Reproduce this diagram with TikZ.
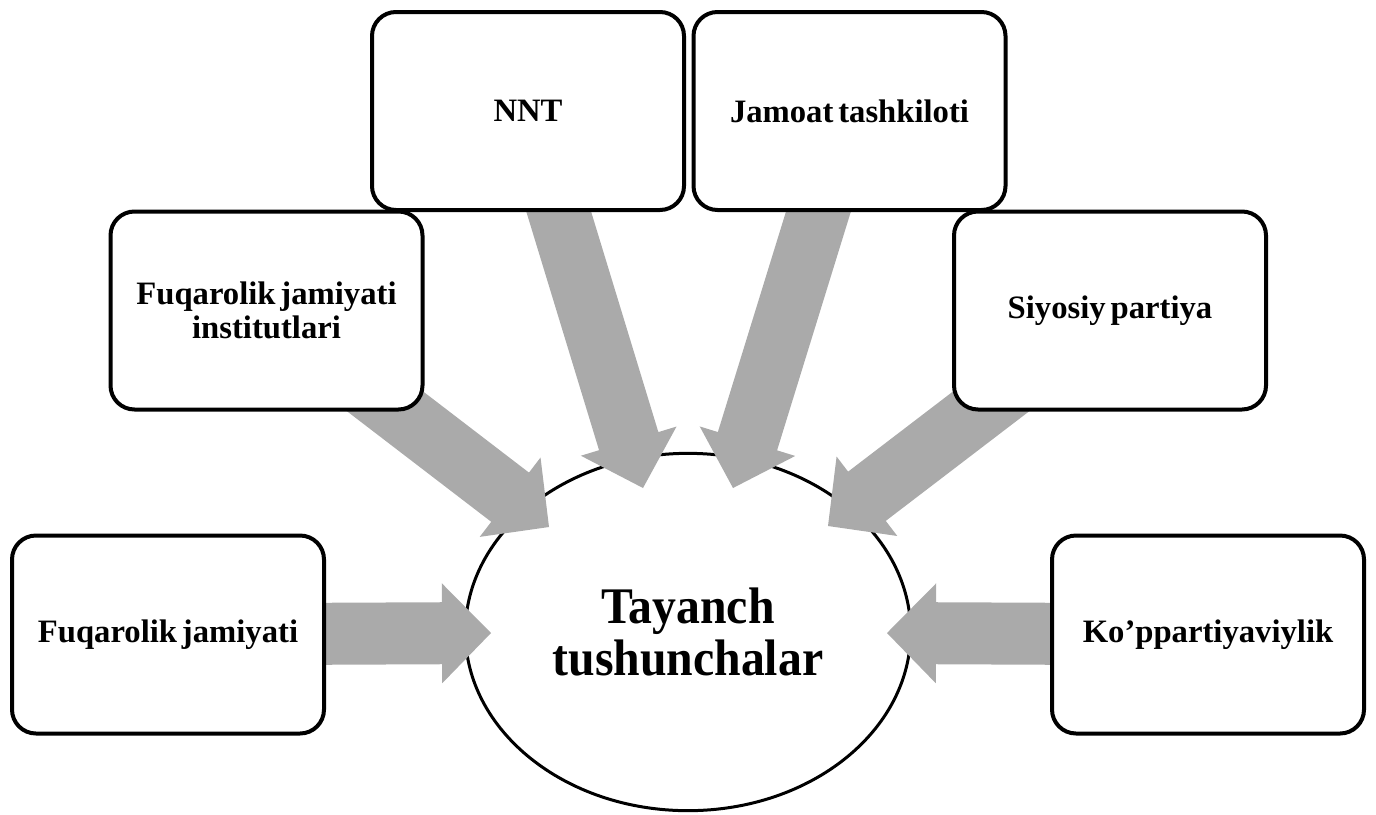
\documentclass[tikz,border=0pt]{standalone}
\usepackage{fontspec}
\setmainfont{Liberation Serif}[WordSpace=0.6]
\newfontfamily\bigfont{Liberation Serif}[FakeStretch=0.93]
\usetikzlibrary{calc,shapes.geometric}
\definecolor{arrgray}{RGB}{170,170,170}
\newcommand\blockarr[2]{%
  \path ($(#2)!36.75pt!(#1)$) coordinate (hb);
  \fill[arrgray] ($(#1)!23.25pt!90:(#2)$) -- ($(hb)!23.25pt!90:(#2)$) -- ($(hb)!37.5pt!90:(#2)$) -- (#2)
    -- ($(hb)!37.5pt!-90:(#2)$) -- ($(hb)!23.25pt!-90:(#2)$) -- ($(#1)!23.25pt!-90:(#2)$) -- cycle;}
\begin{document}
\begin{tikzpicture}[x=0.75pt,y=-0.75pt,
  box/.style={draw=black, line width=3pt, rounded corners=18pt, fill=white,
    minimum width=234pt, minimum height=148.5pt, inner sep=0pt, align=center,
    font=\bfseries\fontsize{24.5}{25.5}\selectfont},
  core/.style={ellipse, draw=black, line width=2.25pt, fill=white,
    minimum width=334pt, minimum height=268pt, inner sep=0pt, align=center,
    font=\bigfont\bfseries\fontsize{38.5}{39}\selectfont}]
\useasboundingbox (0,0) rectangle (1376,814);
% box centres
\coordinate (c-nnt) at (528,111);
\coordinate (c-jam) at (849.5,111);
\coordinate (c-inst) at (266.5,310.5);
\coordinate (c-siy) at (1110,310.5);
\coordinate (c-fj) at (168,634.5);
\coordinate (c-kop) at (1208,634.5);
% arrow tips
\coordinate (t-fj) at (491,633);
\coordinate (t-kop) at (887,633);
\coordinate (t-inst) at (549,527);
\coordinate (t-nnt) at (643,488);
\coordinate (t-jam) at (733,488);
\coordinate (t-siy) at (828,526);
% centre ellipse
\node[core] (tay) at (688,632) {Tayanch\\tushunchalar};
% arrows
\blockarr{c-fj}{t-fj}
\blockarr{c-kop}{t-kop}
\blockarr{c-inst}{t-inst}
\blockarr{c-nnt}{t-nnt}
\blockarr{c-jam}{t-jam}
\blockarr{c-siy}{t-siy}
% boxes
\node[box] (nnt) at (c-nnt) {NNT};
\node[box] (jam) at (c-jam) {Jamoat tashkiloti};
\node[box] (inst) at (c-inst) {Fuqarolik jamiyati\\institutlari};
\node[box] (siy) at (c-siy) {Siyosiy partiya};
\node[box] (fj) at (c-fj) {Fuqarolik jamiyati};
\node[box] (kop) at (c-kop) {Ko’ppartiyaviylik};
\end{tikzpicture}
\end{document}
